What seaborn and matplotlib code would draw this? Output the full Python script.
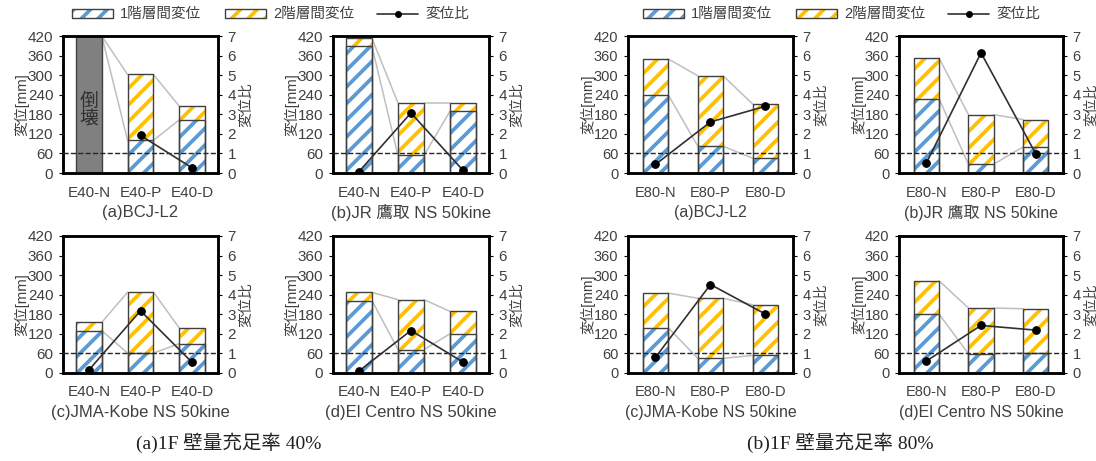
import numpy as np
import pandas as pd
import matplotlib
matplotlib.use("Agg")
import matplotlib.pyplot as plt
import seaborn as sns
from matplotlib.patches import Rectangle, Patch
from matplotlib.lines import Line2D

# ---------------- data ----------------
cats40 = ["E40-N", "E40-P", "E40-D"]
cats80 = ["E80-N", "E80-P", "E80-D"]

# 壁量充足率 40%
bcj40_f1 = [np.nan, 100, 163]
bcj40_f2 = [np.nan, 202, 42]
bcj40_ratio = [np.nan, 1.92, 0.26]
bcj40_collapse = [420, 0, 0]          # E40-N 倒壊

jr40_f1 = [388, 54, 189]
jr40_f2 = [25, 161, 26]
jr40_ratio = [0.07, 3.07, 0.14]

kobe40_f1 = [130, 61, 90]
kobe40_f2 = [25, 187, 48]
kobe40_ratio = [0.15, 3.18, 0.54]

elc40_f1 = [222, 72, 120]
elc40_f2 = [25, 153, 69]
elc40_ratio = [0.10, 2.17, 0.56]

# 壁量充足率 80%
bcj80_f1 = [240, 82, 45]
bcj80_f2 = [110, 216, 166]
bcj80_ratio = [0.44, 2.61, 3.41]

jr80_f1 = [228, 27, 80]
jr80_f2 = [125, 152, 84]
jr80_ratio = [0.51, 6.14, 0.99]

kobe80_f1 = [139, 45, 54]
kobe80_f2 = [106, 184, 155]
kobe80_ratio = [0.80, 4.52, 3.01]

elc80_f1 = [181, 59, 62]
elc80_f2 = [102, 140, 135]
elc80_ratio = [0.61, 2.43, 2.19]

titles40 = ["(a)BCJ-L2", "(b)JR 鷹取 NS 50kine", "(c)JMA-Kobe NS 50kine", "(d)El Centro NS 50kine"]
titles80 = ["(a)BCJ-L2", "(b)JR 鷹取 NS 50kine", "(c)JMA-Kobe NS 50kine", "(d)El Centro NS 50kine"]
yticks_mm = [0, 60, 120, 180, 240, 300, 360, 420]
yticks_ratio = [0, 1, 2, 3, 4, 5, 6, 7]
legend_labels = ["1階層間変位", "2階層間変位", "変位比"]

# ---------------- style ----------------
sns.set_theme(style="white")
plt.rcParams["font.family"] = ["Liberation Sans", "Noto Sans CJK JP"]
plt.rcParams["hatch.linewidth"] = 2.7
plt.rcParams["axes.unicode_minus"] = False

BLUE = "#5B9BD5"
YEL = "#FFC000"
EDGE = "#404040"
TXT = "#404040"
GRAYLINE = "#BFBFBF"

fig = plt.figure(figsize=(10.96, 4.61), dpi=100)


def panel(rect, cats, f1, f2, ratio, title, fs_tick, fs_title, width, collapse=None):
    ax = fig.add_axes(rect)
    n = len(cats)
    tot = [a + b for a, b in zip(f1, f2)]
    df = pd.DataFrame({"cat": cats, "f1": f1, "tot": tot, "ratio": ratio})

    # stacked hatched bars
    sns.barplot(data=df, x="cat", y="tot", color="white", edgecolor=YEL, linewidth=0,
                hatch="//", width=width, errorbar=None, saturation=1, ax=ax, zorder=2)
    sns.barplot(data=df, x="cat", y="f1", color="white", edgecolor=BLUE, linewidth=0,
                hatch="//", width=width, errorbar=None, saturation=1, ax=ax, zorder=2)
    if collapse is not None:
        dfc = pd.DataFrame({"cat": cats, "h": collapse})
        sns.barplot(data=dfc, x="cat", y="h", color="#808080", linewidth=0,
                    width=width, errorbar=None, saturation=1, ax=ax, zorder=2)
    # outlines
    for p in list(ax.patches):
        h = p.get_height()
        if np.isfinite(h) and h > 0:
            ax.add_patch(Rectangle(p.get_xy(), p.get_width(), h, fill=False,
                                   edgecolor=EDGE, linewidth=1.0, zorder=3))
    if collapse is not None:
        for i, c in enumerate(collapse):
            if c > 0:
                ax.text(i, 190, "倒\n壊", ha="center", va="center", fontsize=fs_title + 1.5,
                        color="#303030", linespacing=1.05, zorder=4)

    # series lines between adjacent bars
    top_t = [tot[i] if np.isfinite(tot[i]) else (collapse[i] if collapse else np.nan) for i in range(n)]
    top_1 = [f1[i] if np.isfinite(f1[i]) else (collapse[i] if collapse else np.nan) for i in range(n)]
    for i in range(n - 1):
        x0, x1 = i + width / 2, i + 1 - width / 2
        ax.plot([x0, x1], [top_t[i], top_t[i + 1]], color=GRAYLINE, lw=1.1, zorder=1.5)
        ax.plot([x0, x1], [top_1[i], top_1[i + 1]], color=GRAYLINE, lw=1.1, zorder=1.5)

    ax.set_ylim(0, 420)
    ax.set_yticks(yticks_mm)
    ax.set_xlim(-0.5, n - 0.5)
    ax.set_xlabel("")
    ax.set_ylabel("変位[mm]", fontsize=fs_tick - 0.3, color=TXT, labelpad=-1)
    ax.tick_params(axis="y", direction="out", length=3, width=0.8, colors="black",
                   labelcolor=TXT, labelsize=fs_tick, pad=4)
    ax.tick_params(axis="x", length=0, pad=9, labelsize=fs_tick, labelcolor=TXT)

    ax2 = ax.twinx()
    dfr = df.dropna(subset=["ratio"]).copy()
    dfr["pos"] = [cats.index(c) for c in dfr["cat"]]
    sns.lineplot(data=dfr, x="pos", y="ratio", ax=ax2, color="#303030", lw=1.2,
                 marker="o", markersize=5.5, markeredgecolor="black",
                 markerfacecolor="black", zorder=5)
    ax2.axhline(1, ls="--", color="#262626", lw=1.0, zorder=4)
    ax2.set_ylim(0, 7)
    ax2.set_yticks(yticks_ratio)
    ax2.set_xlim(-0.5, n - 0.5)
    ax2.set_ylabel("変位比", fontsize=fs_tick - 0.3, color=TXT, labelpad=2, rotation=90)
    ax2.tick_params(axis="y", direction="out", length=3, width=0.8, colors="black",
                    labelcolor=TXT, labelsize=fs_tick, pad=4)
    for a in (ax, ax2):
        for s in a.spines.values():
            s.set_visible(True)
            s.set_color("black")
            s.set_linewidth(1.8)
    ax.text(0.5, -0.29, title, transform=ax.transAxes, ha="center", va="center",
            fontsize=fs_title, color=TXT)
    return ax


H = 0.2972
top_b, bot_b = 0.6247, 0.1909
left_cols = [(0.0575, 0.1414), (0.3038, 0.1423)]
right_cols = [(0.5730, 0.1505), (0.8203, 0.1496)]

sets40 = [
    (cats40, bcj40_f1, bcj40_f2, bcj40_ratio, titles40[0], bcj40_collapse),
    (cats40, jr40_f1, jr40_f2, jr40_ratio, titles40[1], None),
    (cats40, kobe40_f1, kobe40_f2, kobe40_ratio, titles40[2], None),
    (cats40, elc40_f1, elc40_f2, elc40_ratio, titles40[3], None),
]
sets80 = [
    (cats80, bcj80_f1, bcj80_f2, bcj80_ratio, titles80[0], None),
    (cats80, jr80_f1, jr80_f2, jr80_ratio, titles80[1], None),
    (cats80, kobe80_f1, kobe80_f2, kobe80_ratio, titles80[2], None),
    (cats80, elc80_f1, elc80_f2, elc80_ratio, titles80[3], None),
]

for k, (cats, f1, f2, r, t, col) in enumerate(sets40):
    l, w = left_cols[k % 2]
    b = top_b if k < 2 else bot_b
    panel([l, b, w, H], cats, f1, f2, r, t, fs_tick=11, fs_title=12, width=0.5, collapse=col)

for k, (cats, f1, f2, r, t, col) in enumerate(sets80):
    l, w = right_cols[k % 2]
    b = top_b if k < 2 else bot_b
    panel([l, b, w, H], cats, f1, f2, r, t, fs_tick=10.5, fs_title=11.5, width=0.46, collapse=col)

# legends
def legend_handles():
    h1 = (Patch(facecolor="white", edgecolor=BLUE, hatch="//", linewidth=0),
          Patch(facecolor="none", edgecolor=EDGE, linewidth=1.0))
    h2 = (Patch(facecolor="white", edgecolor=YEL, hatch="//", linewidth=0),
          Patch(facecolor="none", edgecolor=EDGE, linewidth=1.0))
    h3 = Line2D([], [], color="#303030", lw=1.2, marker="o", markersize=4,
                markerfacecolor="black", markeredgecolor="black")
    return [h1, h2, h3]

for cx in (0.247, 0.768):
    fig.legend(legend_handles(), legend_labels, loc="center", bbox_to_anchor=(cx, 0.969),
               ncol=3, frameon=False, handlelength=2.8, handleheight=0.55,
               columnspacing=1.6, handletextpad=0.5, fontsize=10.5, labelcolor=TXT)

serif = ["Liberation Serif", "Noto Sans CJK JP"]
fig.text(0.209, 0.039, "(a)1F 壁量充足率 40%", ha="center", va="center",
         fontsize=14, family=serif, color="#202020")
fig.text(0.767, 0.039, "(b)1F 壁量充足率 80%", ha="center", va="center",
         fontsize=14, family=serif, color="#202020")

fig.savefig("out.png", dpi=100)
